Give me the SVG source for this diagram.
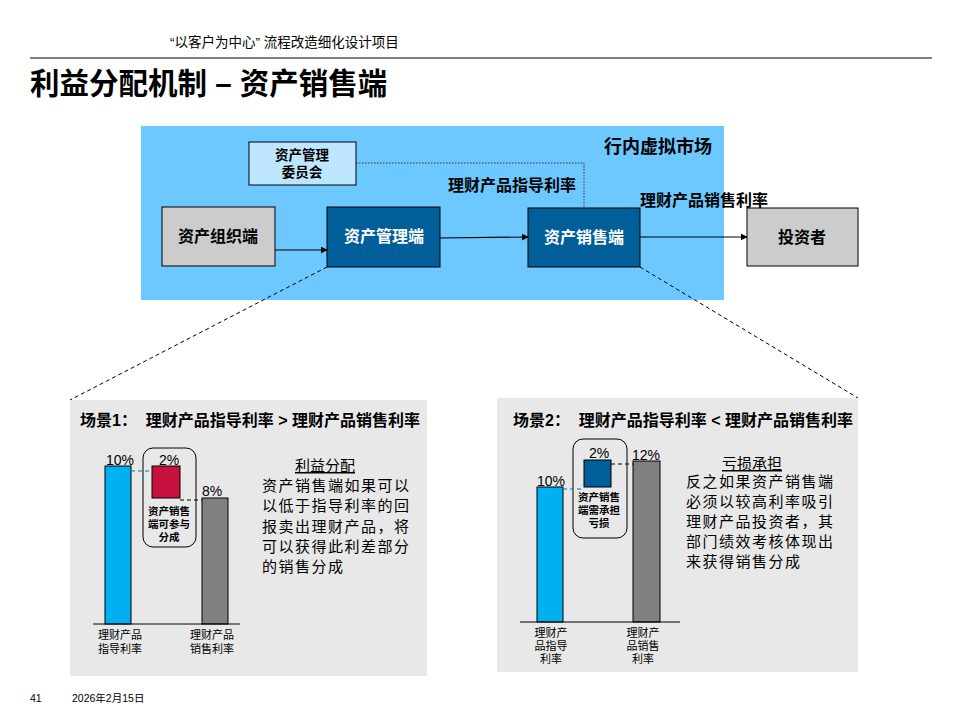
<svg xmlns="http://www.w3.org/2000/svg" width="960" height="720" viewBox="0 0 960 720">
<defs>
<marker id="arr" viewBox="0 0 10 10" refX="9" refY="5" markerWidth="7" markerHeight="7" orient="auto" markerUnits="userSpaceOnUse"><path d="M0,0 L10,5 L0,10 Z" fill="#000"/></marker>
<style>
text{font-family:"Liberation Sans","Noto Sans CJK SC",sans-serif;fill:#000}
.b{font-weight:bold}
.node{stroke:#000;stroke-width:1}
.gray{fill:#CCCCCC}
.dk{fill:#005E99}
.wt{fill:#fff;font-weight:bold;font-size:16px}
.lbl{font-weight:bold;font-size:16px}
.conn{stroke:#000;stroke-width:1.2;fill:none}
.dash{stroke:#000;stroke-width:1;stroke-dasharray:4,3;fill:none}
.para{font-size:15px;letter-spacing:1.5px}
.small{font-size:11px}
.pct{font-size:14px}
.inbox{font-size:10.5px;font-weight:bold}
.sc{font-weight:bold;font-size:16px}
</style>
</defs>
<rect width="960" height="720" fill="#fff"/>
<!-- header -->
<text x="170" y="47" font-size="13.5">“以客户为中心” 流程改造细化设计项目</text>
<line x1="30" y1="58" x2="932" y2="58" stroke="#000" stroke-width="1"/>
<text x="30" y="94" font-size="29.5" class="b">利益分配机制 – 资产销售端</text>

<!-- virtual market background -->
<rect x="141" y="126" width="583" height="174" fill="#6DC8FF"/>
<text x="712" y="153" text-anchor="end" class="b" font-size="18">行内虚拟市场</text>

<g id="connectors">
<polyline points="356,163 584,163 584,208" fill="none" stroke="#333" stroke-width="1" stroke-dasharray="1.5,1.5"/>
<line x1="275" y1="250" x2="327" y2="250" class="conn" marker-end="url(#arr)"/>
<line x1="440" y1="238" x2="528" y2="237" class="conn" marker-end="url(#arr)"/>
<line x1="640" y1="237" x2="747" y2="237" class="conn" marker-end="url(#arr)"/>
<line x1="327" y1="267" x2="70" y2="400" class="dash"/>
<line x1="640" y1="267" x2="858" y2="398" class="dash"/>
</g>
<text x="512" y="191" text-anchor="middle" class="lbl">理财产品指导利率</text>
<text x="704" y="206" text-anchor="middle" class="lbl">理财产品销售利率</text>

<g id="committee">
<rect x="249" y="142" width="107" height="43" fill="#BFE6FF" class="node"/>
<text x="302" y="160" text-anchor="middle" font-size="13.5" class="b">资产管理</text>
<text x="302" y="177" text-anchor="middle" font-size="13.5" class="b">委员会</text>
</g>
<g id="asset-org">
<rect x="162" y="207" width="113" height="59" class="node gray"/>
<text x="218" y="242" text-anchor="middle" class="lbl">资产组织端</text>
</g>
<g id="asset-mgmt">
<rect x="327" y="207" width="113" height="60" class="node dk"/>
<text x="384" y="242" text-anchor="middle" class="wt">资产管理端</text>
</g>
<g id="asset-sales">
<rect x="528" y="208" width="112" height="59" class="node dk"/>
<text x="584" y="243" text-anchor="middle" class="wt">资产销售端</text>
</g>
<g id="investor">
<rect x="747" y="208" width="111" height="58" class="node gray"/>
<text x="802" y="243" text-anchor="middle" class="lbl">投资者</text>
</g>

<!-- Scenario 1 -->
<g id="scenario1">
<rect x="70" y="400" width="357" height="276" fill="#E8E8E8"/>
<text x="80" y="426" class="sc" xml:space="preserve">场景1：  理财产品指导利率 &gt; 理财产品销售利率</text>
<rect x="105" y="466" width="26" height="158" fill="#00B0F0" stroke="#000"/>
<rect x="202" y="498" width="26" height="126" fill="#808080" stroke="#000"/>
<rect x="143" y="448" width="53" height="99" rx="10" fill="none" stroke="#000"/>
<rect x="152" y="466" width="28" height="32" fill="#C8103E" stroke="#000"/>
<line x1="131" y1="471" x2="152" y2="471" stroke="#0070C0" stroke-dasharray="4,3"/>
<line x1="180" y1="500" x2="202" y2="500" stroke="#000" stroke-dasharray="4,3"/>
<line x1="93" y1="624" x2="240" y2="624" stroke="#000"/>
<text x="120" y="465" text-anchor="middle" class="pct">10%</text>
<text x="169" y="465" text-anchor="middle" class="pct">2%</text>
<text x="212" y="496" text-anchor="middle" class="pct">8%</text>
<text x="169" y="515" text-anchor="middle" class="inbox">资产销售</text>
<text x="169" y="528" text-anchor="middle" class="inbox">端可参与</text>
<text x="169" y="541" text-anchor="middle" class="inbox">分成</text>
<text x="120" y="639" text-anchor="middle" class="small">理财产品</text>
<text x="120" y="653" text-anchor="middle" class="small">指导利率</text>
<text x="212" y="639" text-anchor="middle" class="small">理财产品</text>
<text x="212" y="653" text-anchor="middle" class="small">销售利率</text>
<text x="325" y="471" text-anchor="middle" font-size="15" text-decoration="underline">利益分配</text>
<text x="262" y="491" class="para">资产销售端如果可以</text>
<text x="262" y="511" class="para">以低于指导利率的回</text>
<text x="262" y="532" class="para">报卖出理财产品，将</text>
<text x="262" y="552" class="para">可以获得此利差部分</text>
<text x="262" y="572" class="para">的销售分成</text>
</g>

<!-- Scenario 2 -->
<g id="scenario2">
<rect x="497" y="398" width="361" height="274" fill="#E8E8E8"/>
<text x="513" y="426" class="sc" xml:space="preserve">场景2：  理财产品指导利率 &lt; 理财产品销售利率</text>
<rect x="537" y="487" width="26" height="135" fill="#00B0F0" stroke="#000"/>
<rect x="633" y="461" width="27" height="161" fill="#808080" stroke="#000"/>
<rect x="573" y="439" width="54" height="99" rx="10" fill="none" stroke="#000"/>
<rect x="584" y="460" width="27" height="27" fill="#005E99" stroke="#000"/>
<line x1="563" y1="489" x2="584" y2="489" stroke="#0070C0" stroke-dasharray="4,3"/>
<line x1="611" y1="464" x2="633" y2="464" stroke="#000" stroke-dasharray="4,3"/>
<line x1="520" y1="622" x2="680" y2="622" stroke="#000"/>
<text x="551" y="486" text-anchor="middle" class="pct">10%</text>
<text x="599" y="458" text-anchor="middle" class="pct">2%</text>
<text x="646" y="460" text-anchor="middle" class="pct">12%</text>
<text x="599" y="501" text-anchor="middle" class="inbox">资产销售</text>
<text x="599" y="514" text-anchor="middle" class="inbox">端需承担</text>
<text x="599" y="527" text-anchor="middle" class="inbox">亏损</text>
<text x="551" y="637" text-anchor="middle" class="small">理财产</text>
<text x="551" y="650" text-anchor="middle" class="small">品指导</text>
<text x="551" y="663" text-anchor="middle" class="small">利率</text>
<text x="643" y="637" text-anchor="middle" class="small">理财产</text>
<text x="643" y="650" text-anchor="middle" class="small">品销售</text>
<text x="643" y="663" text-anchor="middle" class="small">利率</text>
<text x="752" y="469" text-anchor="middle" font-size="15" text-decoration="underline">亏损承担</text>
<text x="686" y="487" class="para">反之如果资产销售端</text>
<text x="686" y="507" class="para">必须以较高利率吸引</text>
<text x="686" y="527" class="para">理财产品投资者，其</text>
<text x="686" y="547" class="para">部门绩效考核体现出</text>
<text x="686" y="567" class="para">来获得销售分成</text>
</g>

<!-- footer -->
<text x="30" y="702" font-size="10.5">41</text>
<text x="72" y="702" font-size="10.5">2026年2月15日</text>
</svg>
